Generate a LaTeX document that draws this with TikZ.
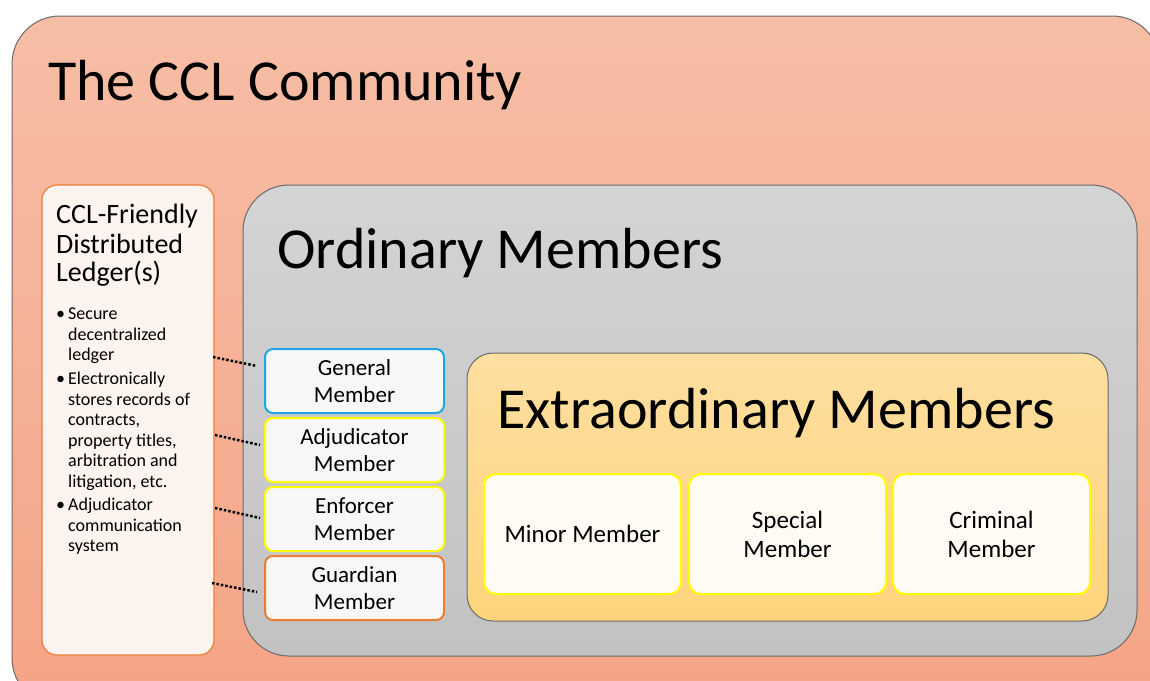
\documentclass[tikz,border=0pt]{standalone}
\usepackage{fontspec}
\setmainfont{Carlito}
\definecolor{outerTop}{HTML}{F6BEA6}
\definecolor{outerBot}{HTML}{F5A486}
\definecolor{grayTop}{HTML}{D4D4D4}
\definecolor{grayBot}{HTML}{C2C2C2}
\definecolor{extraTop}{HTML}{FEDFA0}
\definecolor{extraBot}{HTML}{FDD47C}
\definecolor{ledgerFill}{HTML}{FDF4F0}
\definecolor{accOrange}{HTML}{ED7D31}
\definecolor{accBlue}{HTML}{1DA9E0}
\definecolor{accYellow}{HTML}{FFFF00}
\definecolor{memFill}{HTML}{F7F7F7}
\definecolor{innerFill}{HTML}{FEFAF4}
\definecolor{frameGray}{HTML}{6A6A6A}
\begin{document}
\begin{tikzpicture}[x=1pt,y=-1pt,
  box/.style={anchor=north west, inner sep=0pt, outer sep=0pt},
  member/.style={box, draw, line width=2pt, fill=memFill, rounded corners=8pt,
     minimum width=179pt, minimum height=64pt, align=center,
     font=\fontsize{23}{27}\selectfont},
  extramem/.style={box, draw=accYellow, line width=2pt, fill=innerFill, rounded corners=12pt,
     minimum width=197pt, minimum height=120pt, align=center,
     font=\fontsize{25}{29}\selectfont},
  bigtitle/.style={anchor=base west, inner sep=0pt, font=\fontsize{58}{60}\selectfont},
  ledgertitle/.style={anchor=base west, inner sep=0pt, font=\fontsize{28}{29}\selectfont},
  bul/.style={anchor=base west, inner sep=0pt, font=\fontsize{18}{20}\selectfont},
  dotline/.style={line width=2.5pt, dash pattern=on 2.5pt off 2pt}
]
\useasboundingbox (0,0) rectangle (1150,680);
% outer community box
\node[box, draw=frameGray, line width=1pt, top color=outerTop, bottom color=outerBot,
  rounded corners=48pt, minimum width=1148pt, minimum height=690pt] (outer) at (12,16) {};
\node[bigtitle] (ttl) at (48,100) {The CCL Community};
% ledger box
\node[box, draw=accOrange, line width=1.2pt, fill=ledgerFill, rounded corners=15pt,
  minimum width=172pt, minimum height=470pt] (ledger) at (42,185) {};
\node[ledgertitle] (lt1) at (56,223) {CCL-Friendly};
\node[ledgertitle] (lt2) at (56,253) {Distributed};
\node[ledgertitle] (lt3) at (56,281) {Ledger(s)};
\node[bul] (b1) at (56,319) {•};
\node[bul] (b1a) at (68,319) {Secure};
\node[bul] (b1b) at (68,340) {decentralized};
\node[bul] (b1c) at (68,360) {ledger};
\node[bul] (b2) at (56,384) {•};
\node[bul] (b2a) at (68,384) {Electronically};
\node[bul] (b2b) at (68,405) {stores records of};
\node[bul] (b2c) at (68,425) {contracts,};
\node[bul] (b2d) at (68,446) {property titles,};
\node[bul] (b2e) at (68,466) {arbitration and};
\node[bul] (b2f) at (68,487) {litigation, etc.};
\node[bul] (b3) at (56,510) {•};
\node[bul] (b3a) at (68,510) {Adjudicator};
\node[bul] (b3b) at (68,531) {communication};
\node[bul] (b3c) at (68,551) {system};
% ordinary members box
\node[box, draw=frameGray, line width=1pt, top color=grayTop, bottom color=grayBot,
  rounded corners=46pt, minimum width=894pt, minimum height=471pt] (ordinary) at (243,185) {};
\node[bigtitle] (ot) at (277,268) {Ordinary Members};
% member boxes
\node[member, draw=accBlue] (gen) at (265,349) {General\\Member};
\node[member, draw=accYellow] (adj) at (265,418) {Adjudicator\\Member};
\node[member, draw=accYellow] (enf) at (265,487) {Enforcer\\Member};
\node[member, draw=accOrange] (gua) at (265,556) {Guardian\\Member};
% extraordinary box
\node[box, draw=frameGray, line width=1pt, top color=extraTop, bottom color=extraBot,
  rounded corners=26pt, minimum width=641pt, minimum height=268pt] (extra) at (467,353) {};
\node[bigtitle] (et) at (497,428) {Extraordinary Members};
\node[extramem] (minor) at (484,474) {Minor Member};
\node[extramem] (special) at (689,474) {Special\\Member};
\node[extramem] (criminal) at (893,474) {Criminal\\Member};
% dotted connectors
\draw[dotline] ([yshift=-172pt,xshift=-1pt]ledger.north east) -- ([xshift=-8pt,yshift=-17pt]gen.north west);
\draw[dotline] ([yshift=-250pt,xshift=1pt]ledger.north east) -- ([xshift=-5pt,yshift=-27pt]adj.north west);
\draw[dotline] ([yshift=-323pt,xshift=1pt]ledger.north east) -- ([xshift=-5pt,yshift=-31pt]enf.north west);
\draw[dotline] ([yshift=-398pt,xshift=-2pt]ledger.north east) -- ([xshift=-8pt,yshift=-36pt]gua.north west);
\end{tikzpicture}
\end{document}
